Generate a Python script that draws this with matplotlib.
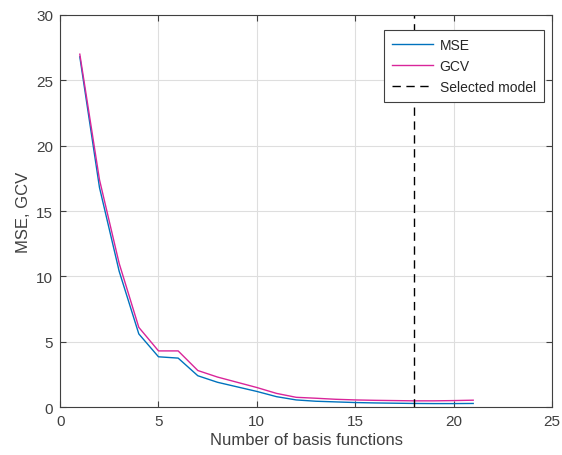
import matplotlib.pyplot as plt

plt.rcParams['font.family'] = ['Liberation Sans', 'DejaVu Sans']

n_basis = list(range(1, 22))
mse = [26.8, 16.8, 10.4, 5.6, 3.85, 3.75, 2.4, 1.9, 1.55, 1.2, 0.8,
       0.55, 0.45, 0.4, 0.35, 0.32, 0.3, 0.28, 0.27, 0.27, 0.28]
gcv = [27.0, 17.4, 11.0, 6.1, 4.3, 4.3, 2.8, 2.3, 1.9, 1.5, 1.05,
       0.75, 0.68, 0.6, 0.55, 0.52, 0.5, 0.48, 0.48, 0.5, 0.53]
selected = 18

fig = plt.figure(figsize=(5.62, 4.56), dpi=100)
ax = fig.add_axes([0.107, 0.105, 0.875, 0.86])

ax.plot(n_basis, mse, color='#0072BD', lw=1.0, label='MSE')
ax.plot(n_basis, gcv, color='#D9259A', lw=1.0, label='GCV')
ax.axvline(selected, color='black', lw=1.0, ls=(0, (6, 4)), label='Selected model')

ax.set_xlim(0, 25)
ax.set_ylim(0, 30)
ax.set_xticks([0, 5, 10, 15, 20, 25])
ax.set_yticks([0, 5, 10, 15, 20, 25, 30])
ax.grid(True, color='#dedede', lw=0.8)
ax.set_axisbelow(True)
ax.tick_params(direction='in', top=True, right=True, labelsize=11, colors='#404040',
               length=4, pad=5)
for s in ax.spines.values():
    s.set_color('#404040')
    s.set_linewidth(0.8)

ax.set_xlabel('Number of basis functions', fontsize=12, color='#404040', labelpad=3)
ax.set_ylabel('MSE, GCV', fontsize=12, color='#404040', labelpad=4)

leg = ax.legend(loc='upper right', bbox_to_anchor=(0.984, 0.962), borderaxespad=0,
                fontsize=10, fancybox=False, edgecolor='#404040', framealpha=1,
                handlelength=2.9, labelspacing=0.5, borderpad=0.6, handletextpad=0.5)
leg.get_frame().set_linewidth(0.8)
for t in leg.get_texts():
    t.set_color('#262626')

fig.savefig('out.png')
